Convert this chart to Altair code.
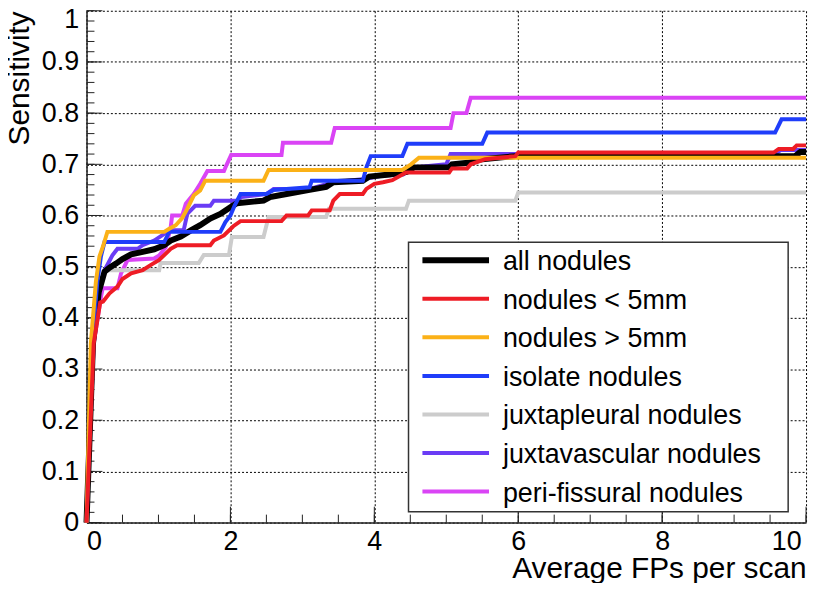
import altair as alt
import pandas as pd

# ---------------- data ----------------
names = ["all nodules", "nodules < 5mm", "nodules > 5mm", "isolate nodules",
         "juxtapleural nodules", "juxtavascular nodules", "peri-fissural nodules"]
colors = ["#000000", "#ee1c25", "#fbb117", "#1f3dfa", "#cccccc", "#6a3cf5", "#da44f5"]
widths = [6, 4, 4, 4, 4, 4, 4]

all_x = [0, 0.09, 0.17, 0.25, 0.32, 0.41, 0.50, 0.62, 0.78, 0.94, 1.08, 1.17, 1.31, 1.45, 1.58,
         1.72, 1.86, 2.0, 2.09, 2.46, 2.55, 2.78, 3.10, 3.33, 3.43, 3.84, 3.93, 4.21, 4.45, 4.55,
         5.04, 5.08, 5.3, 5.5, 5.96, 9.85, 9.92, 10]
all_y = [0, 0.35, 0.45, 0.49, 0.498, 0.506, 0.515, 0.524, 0.529, 0.534, 0.542, 0.551, 0.559, 0.571,
         0.581, 0.594, 0.603, 0.616, 0.624, 0.629, 0.636, 0.642, 0.650, 0.656, 0.665, 0.668, 0.676,
         0.68, 0.685, 0.694, 0.694, 0.70, 0.703, 0.71, 0.716, 0.716, 0.724, 0.724]

small_x = [0, 0.10, 0.19, 0.23, 0.32, 0.43, 0.50, 0.62, 0.78, 0.89, 1.01, 1.17, 1.26, 1.72, 1.77,
           1.91, 2.04, 2.14, 2.71, 2.78, 3.08, 3.13, 3.38, 3.43, 3.52, 3.84, 3.89, 4.0, 4.12, 4.25,
           4.44, 5.04, 5.08, 5.29, 5.34, 5.54, 5.96, 6.0, 9.55, 9.62, 9.82, 9.87, 10]
small_y = [0, 0.35, 0.43, 0.432, 0.448, 0.461, 0.476, 0.487, 0.493, 0.503, 0.513, 0.535, 0.542,
           0.542, 0.551, 0.561, 0.579, 0.589, 0.589, 0.600, 0.600, 0.610, 0.610, 0.629, 0.642,
           0.642, 0.652, 0.662, 0.665, 0.669, 0.684, 0.684, 0.692, 0.692, 0.700, 0.710, 0.716,
           0.723, 0.723, 0.730, 0.730, 0.737, 0.737]

large_x = [0, 0.06, 0.13, 0.18, 0.23, 0.29, 1.08, 1.15, 1.24, 1.33, 1.40, 1.49, 1.58, 1.65, 2.46,
           2.53, 4.39, 4.51, 4.62, 10]
large_y = [0, 0.35, 0.47, 0.52, 0.54, 0.568, 0.568, 0.574, 0.581, 0.595, 0.613, 0.639, 0.649,
           0.668, 0.668, 0.689, 0.689, 0.70, 0.713, 0.713]

iso_x = [0, 0.08, 0.15, 0.20, 0.25, 1.08, 1.15, 1.86, 1.93, 2.0, 2.06, 2.14, 2.50, 2.60, 3.10,
         3.13, 3.84, 3.89, 3.95, 4.39, 4.46, 5.50, 5.57, 9.57, 9.66, 10]
iso_y = [0, 0.35, 0.47, 0.52, 0.548, 0.548, 0.568, 0.568, 0.587, 0.60, 0.62, 0.642, 0.642, 0.650,
         0.655, 0.668, 0.668, 0.694, 0.716, 0.716, 0.740, 0.740, 0.762, 0.762, 0.788, 0.788]

pleu_x = [0, 0.09, 0.2, 0.25, 1.01, 1.03, 1.56, 1.63, 1.98, 2.02, 2.46, 2.53, 3.33, 3.37, 4.44,
          4.48, 5.96, 6.0, 10]
pleu_y = [0, 0.35, 0.47, 0.493, 0.493, 0.507, 0.507, 0.523, 0.523, 0.558, 0.558, 0.597, 0.597,
          0.613, 0.613, 0.629, 0.629, 0.645, 0.645]

vasc_x = [0, 0.09, 0.18, 0.25, 0.36, 0.43, 0.71, 0.78, 0.94, 1.05, 1.15, 1.35, 1.40, 1.51, 1.72,
          1.77, 2.10, 2.15, 2.50, 2.60, 3.10, 3.2, 3.43, 3.9, 4.12, 4.4, 4.55, 5.0, 5.06, 9.57,
          9.65, 10]
vasc_y = [0, 0.35, 0.45, 0.493, 0.522, 0.535, 0.535, 0.542, 0.551, 0.561, 0.571, 0.571, 0.603,
          0.619, 0.619, 0.629, 0.629, 0.636, 0.642, 0.652, 0.652, 0.656, 0.665, 0.672, 0.678,
          0.68, 0.694, 0.70, 0.720, 0.720, 0.728, 0.728]

peri_x = [0, 0.1, 0.2, 0.225, 0.43, 0.48, 0.57, 0.94, 1.01, 1.10, 1.17, 1.19, 1.33, 1.38, 1.49,
          1.58, 1.68, 1.91, 1.95, 2.01, 2.71, 2.73, 3.40, 3.45, 5.06, 5.10, 5.28, 5.34, 10]
peri_y = [0, 0.35, 0.44, 0.458, 0.458, 0.487, 0.513, 0.516, 0.522, 0.538, 0.577, 0.60, 0.60,
          0.623, 0.642, 0.662, 0.687, 0.687, 0.70, 0.718, 0.718, 0.742, 0.742, 0.771, 0.771,
          0.80, 0.80, 0.83, 0.83]

series = {
    "all nodules": (all_x, all_y),
    "nodules < 5mm": (small_x, small_y),
    "nodules > 5mm": (large_x, large_y),
    "isolate nodules": (iso_x, iso_y),
    "juxtapleural nodules": (pleu_x, pleu_y),
    "juxtavascular nodules": (vasc_x, vasc_y),
    "peri-fissural nodules": (peri_x, peri_y),
}
# drawing order (bottom -> top)
draw_order = ["peri-fissural nodules", "juxtapleural nodules", "juxtavascular nodules",
              "all nodules", "isolate nodules", "nodules > 5mm", "nodules < 5mm"]

x_major = [0, 2, 4, 6, 8, 10]
x_minor = [0, 0.5, 1, 1.5, 2, 2.5, 3, 3.5, 4, 4.5, 5, 5.5, 6, 6.5, 7, 7.5, 8, 8.5, 9, 9.5, 10]
y_major = [0, 0.1, 0.2, 0.3, 0.4, 0.5, 0.6, 0.7, 0.8, 0.9, 1.0]
y_minor = [round(i * 0.02, 2) for i in range(51)]

# ---------------- layout / style ----------------
W, H = 724, 515
FONT = "Liberation Sans"

xs = alt.Scale(domain=[0, 10], nice=False, zero=False)
ys = alt.Scale(domain=[0, 1], nice=False, zero=False)

x_axis = alt.Axis(values=x_major, format="d", grid=True, gridDash=[2, 2], gridColor="#000000",
                  gridWidth=1, ticks=False, domain=True, domainColor="#222222", domainWidth=1.5,
                  labelFont=FONT, labelFontSize=27, labelColor="#000000", labelPadding=6,
                  labelOffset={"condition": {"test": "datum.value == 10", "value": -5}, "value": 0},
                  title="Average FPs per scan", titleFont=FONT, titleFontSize=30,
                  titleFontWeight="normal", titleColor="#000000", titleAnchor="end",
                  titleAlign="right", titleBaseline="alphabetic", titleX=W, titleY=55)
y_axis = alt.Axis(values=y_major, format="~g", grid=True, gridDash=[2, 2], gridColor="#000000",
                  gridWidth=1, ticks=False, domain=True, domainColor="#222222", domainWidth=1.5,
                  labelFont=FONT, labelFontSize=27, labelColor="#000000", labelPadding=8,
                  labelOffset={"condition": {"test": "datum.value == 1", "value": 9}, "value": 0},
                  title="Sensitivity", titleFont=FONT, titleFontSize=30,
                  titleFontWeight="normal", titleColor="#000000", titleAnchor="end",
                  titleAlign="right", titleBaseline="alphabetic", titleX=-58, titleY=0)

layers = []

# inward tick marks (ROOT style)
layers.append(alt.Chart(pd.DataFrame({"v": y_minor})).mark_rule(color="#222222", strokeWidth=1)
              .encode(y=alt.Y("v:Q", scale=ys, axis=y_axis), x=alt.value(0), x2=alt.value(8)))
layers.append(alt.Chart(pd.DataFrame({"v": y_major})).mark_rule(color="#222222", strokeWidth=1)
              .encode(y=alt.Y("v:Q", scale=ys, axis=y_axis), x=alt.value(0), x2=alt.value(16)))
layers.append(alt.Chart(pd.DataFrame({"v": x_minor})).mark_rule(color="#222222", strokeWidth=1)
              .encode(x=alt.X("v:Q", scale=xs, axis=x_axis), y=alt.value(H), y2=alt.value(H - 8)))
layers.append(alt.Chart(pd.DataFrame({"v": x_major})).mark_rule(color="#222222", strokeWidth=1)
              .encode(x=alt.X("v:Q", scale=xs, axis=x_axis), y=alt.value(H), y2=alt.value(H - 16)))

# curves
for name in draw_order:
    i = names.index(name)
    sx, sy = series[name]
    df = pd.DataFrame({"x": sx, "y": sy, "i": list(range(len(sx)))})
    layers.append(
        alt.Chart(df).mark_line(color=colors[i], strokeWidth=widths[i], strokeJoin="miter")
        .encode(x=alt.X("x:Q", scale=xs, axis=x_axis),
                y=alt.Y("y:Q", scale=ys, axis=y_axis),
                order="i:Q"))

# legend (drawn by hand, ROOT TLegend look)
one = pd.DataFrame({"k": [0]})
layers.append(alt.Chart(one).mark_rect(fill="white", stroke="#333333", strokeWidth=1.5)
              .encode(x=alt.value(324), x2=alt.value(706), y=alt.value(233), y2=alt.value(504)))
for i, name in enumerate(names):
    yy = 251 + 38.8 * i
    layers.append(alt.Chart(one).mark_rule(color=colors[i], strokeWidth=widths[i])
                  .encode(x=alt.value(338), x2=alt.value(405), y=alt.value(yy)))
    layers.append(alt.Chart(one).mark_text(text=name, align="left", baseline="middle",
                                           font=FONT, fontSize=27, color="#000000")
                  .encode(x=alt.value(419), y=alt.value(yy + 2)))

chart = (alt.layer(*layers)
         .properties(width=W, height=H,
                     autosize=alt.AutoSizeParams(type="none"),
                     padding={"left": 79, "top": 1, "right": 8, "bottom": 59},
                     background="white")
         .configure_view(stroke=None))

chart.save("out.html", embed_options={"renderer": "svg", "actions": False})
